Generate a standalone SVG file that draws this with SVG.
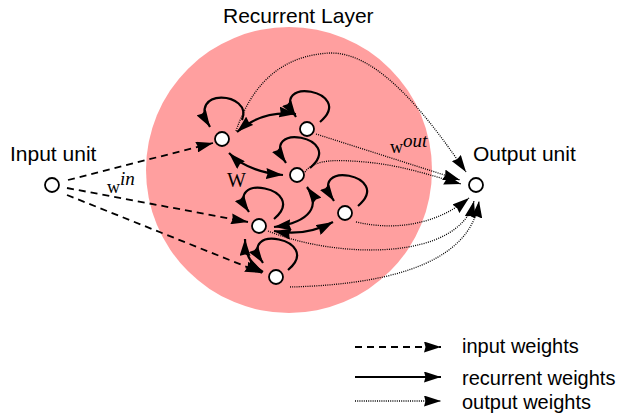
<svg xmlns="http://www.w3.org/2000/svg" width="624" height="414" viewBox="0 0 624 414">
<style>
.node{fill:#fff;stroke:#000;stroke-width:1.8}
.rec{fill:none;stroke:#000;stroke-width:2.2;marker-end:url(#ah)}
.bi{marker-start:url(#ah)}
.in{fill:none;stroke:#000;stroke-width:1.8;stroke-dasharray:7 5;marker-end:url(#ah)}
.out{fill:none;stroke:#000;stroke-width:1.3;stroke-dasharray:1 1.2;marker-end:url(#ah)}
.lab{font-family:"Liberation Sans",Arial,sans-serif;font-size:21px;fill:#000}
.leg{font-family:"Liberation Sans",Arial,sans-serif;font-size:20px;fill:#000}
.math{font-family:"Liberation Serif","Times New Roman",serif;fill:#000}
</style>
<defs>
<marker id="ah" viewBox="0 0 17 11" refX="17" refY="5.5" markerWidth="17" markerHeight="11" markerUnits="userSpaceOnUse" orient="auto-start-reverse">
<path d="M0,0 L17,5.5 L0,11 L1.5,5.5 z" fill="#000"/>
</marker>
</defs>
<circle id="layer" cx="289" cy="170" r="143" fill="#ff9f9f"/>
<text class="lab" x="223" y="23">Recurrent Layer</text>
<g id="connectors">
<path class="in" d="M68,180 L213,143"/>
<path class="in" d="M67,188 L248,222"/>
<path class="in" d="M67,195 L262,273"/>
<path class="rec" d="M242,120 C254,92 185,86 210,127"/>
<path class="rec" d="M320,122 C357,91 267,74 296,117"/>
<path class="rec" d="M310,168 C347,137 257,120 286,163"/>
<path class="rec" d="M358,206 C395,175 305,158 334,201"/>
<path class="rec" d="M274,219 C311,188 221,171 249,212"/>
<path class="rec" d="M288,270 C325,239 235,222 263,263"/>
<path class="rec bi" d="M237,132 Q262,110 296,114"/>
<path class="rec bi" d="M229,153 Q248,172 283,175"/>
<path class="rec bi" d="M307,187 C320,205 312,222 274,227"/>
<path class="rec bi" d="M274,231 Q305,237 333,222"/>
<path class="rec bi" d="M245,239 Q245,262 263,272"/>
<path class="out" d="M236,131 C255,75 290,55 330,53 C380,52 430,120 466,172"/>
<path class="out" d="M316,134 L460,180"/>
<path class="out" d="M305,172 C315,158 340,160 365,162 C400,165 430,175 461,184"/>
<path class="out" d="M356,222 C400,232 440,222 469,198"/>
<path class="out" d="M268,231 C340,260 460,260 474,201"/>
<path class="out" d="M290,287 C370,285 470,270 479,201"/>
</g>
<g id="input"><circle class="node" cx="52" cy="185" r="7"/><text class="lab" x="10" y="161">Input unit</text></g>
<g id="output"><circle class="node" cx="476" cy="185" r="7"/><text class="lab" x="473" y="161">Output unit</text></g>
<g id="n1"><circle class="node" cx="222" cy="139" r="7"/></g>
<g id="n2"><circle class="node" cx="307" cy="129" r="7"/></g>
<g id="n3"><circle class="node" cx="297" cy="175" r="7"/></g>
<g id="n4"><circle class="node" cx="345" cy="213" r="7"/></g>
<g id="n5"><circle class="node" cx="259" cy="226" r="7"/></g>
<g id="n6"><circle class="node" cx="276" cy="277" r="7"/></g>
<text class="math" x="107" y="193" font-size="18">w<tspan font-style="italic" dy="-8" font-size="19">in</tspan></text>
<text class="math" x="227" y="187" font-size="20">W</text>
<text class="math" x="390" y="153" font-size="18">w<tspan font-style="italic" dy="-6" font-size="19">out</tspan></text>
<g id="legend">
<path class="in" d="M355,347 L441,347"/>
<text class="leg" x="462" y="353">input weights</text>
<path class="rec" d="M355,377 L441,377"/>
<text class="leg" x="462" y="385">recurrent weights</text>
<path class="out" d="M355,401 L441,401"/>
<text class="leg" x="462" y="409">output weights</text>
</g>
</svg>
